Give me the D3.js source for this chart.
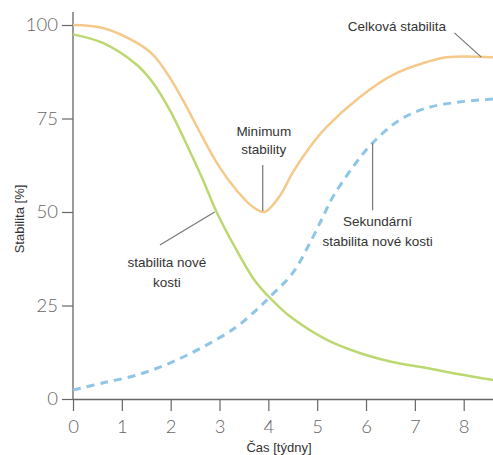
<!DOCTYPE html>
<html>
<head>
<meta charset="utf-8">
<script src="https://cdn.jsdelivr.net/npm/d3@7"></script>
<style>
  body { margin: 0; background: #fff; }
  .tick text { font-family: Lato, "DejaVu Sans", sans-serif; font-weight: 300; fill: #666; }
  .note { font-family: "Liberation Sans", Arial, sans-serif; font-size: 13.5px; fill: #333; }
</style>
</head>
<body>
<div id="chart"></div>
<script>
// values (tyden, %)
var celkT = [0, 0.61, 1.31, 1.64, 1.98, 2.33, 2.66, 3.0, 3.35, 3.68, 3.92, 4.23, 4.5, 4.85, 5.19, 5.87, 6.54, 7.24, 7.65, 8.6];
var celkV = [100, 99.2, 95.2, 92, 86, 78, 69.8, 62, 55.8, 51.4, 50, 54.2, 60.6, 67.4, 72.7, 80.7, 86.6, 90.1, 91.4, 91.4];

var noveT = [0, 0.61, 1.31, 1.64, 1.98, 2.33, 2.66, 2.94, 3.35, 3.76, 4.23, 4.5, 5.2, 5.87, 6.54, 7.24, 7.91, 8.6];
var noveV = [97.5, 95.2, 89.3, 84.5, 77.3, 68, 58.6, 50, 39.8, 31, 24.5, 21.5, 15.8, 12.3, 9.9, 8.3, 6.6, 5.1];

var sekT = [0, 0.61, 1.31, 1.98, 2.66, 3.35, 3.82, 4.03, 4.5, 4.85, 5.11, 5.32, 5.73, 6.13, 6.69, 7.24, 7.91, 8.6];
var sekV = [2.4, 4.3, 6.4, 9.6, 13.9, 19.3, 24.6, 27.3, 33.7, 41.7, 48.5, 54, 62, 68.4, 74.6, 77.8, 79.4, 80.2];

var xTicks = [0, 1, 2, 3, 4, 5, 6, 7, 8];
var yTicks = [0, 25, 50, 75, 100];

var width = 493, height = 455;
var svg = d3.select("#chart").append("svg")
    .attr("width", width)
    .attr("height", height);

var x = d3.scaleLinear().domain([0, 8.6]).range([73, 493]);
var y = d3.scaleLinear().domain([0, 100]).range([399, 25]);

// axes
var yAxis = d3.axisLeft(y).tickValues(yTicks).tickSize(11).tickPadding(4).tickSizeOuter(0);
var gy = svg.append("g").attr("transform", "translate(" + x(0) + ",0)").call(yAxis);
gy.select(".domain").remove();
gy.append("line")
    .attr("x1", 0).attr("x2", 0)
    .attr("y1", y(0)).attr("y2", y(103.5))
    .attr("stroke", "#666").attr("stroke-width", 1.3);

var xAxis = d3.axisBottom(x).tickValues(xTicks).tickSize(12).tickPadding(9).tickSizeOuter(0);
var gx = svg.append("g").attr("transform", "translate(0," + y(0) + ")").call(xAxis);
gx.select(".domain").attr("stroke", "#666").attr("stroke-width", 1.3);

svg.selectAll(".tick line").attr("stroke", "#666").attr("stroke-width", 1.2);
svg.selectAll(".tick text").style("font-size", "18.5px");

// axis titles
svg.append("text").attr("class", "note")
    .style("font-size", "13px")
    .attr("transform", "translate(24,219) rotate(-90)")
    .attr("text-anchor", "middle")
    .text("Stabilita [%]");
svg.append("text").attr("class", "note")
    .style("font-size", "13px")
    .attr("x", 279).attr("y", 452)
    .attr("text-anchor", "middle")
    .text("Čas [týdny]");

// curves
var line = d3.line()
    .x(function(d) { return x(d[0]); })
    .y(function(d) { return y(d[1]); })
    .curve(d3.curveCatmullRom.alpha(0.5));

function pairs(t, v) { return t.map(function(d, i) { return [d, v[i]]; }); }

svg.append("path")
    .attr("d", line(pairs(sekT, sekV)))
    .attr("fill", "none").attr("stroke", "#8fc6e6")
    .attr("stroke-width", 3).attr("stroke-dasharray", "8,6");
svg.append("path")
    .attr("d", line(pairs(noveT, noveV)))
    .attr("fill", "none").attr("stroke", "#bcd870").attr("stroke-width", 2.5);
svg.append("path")
    .attr("d", line(pairs(celkT, celkV)))
    .attr("fill", "none").attr("stroke", "#f4c98a").attr("stroke-width", 2.5);

// annotations
function leader(x1, y1, x2, y2) {
  svg.append("line")
     .attr("x1", x(x1)).attr("y1", y(y1))
     .attr("x2", x(x2)).attr("y2", y(y2))
     .attr("stroke", "#777").attr("stroke-width", 1.2);
}
function note(tx, ty, lines, dy) {
  var t = svg.append("text").attr("class", "note")
      .attr("text-anchor", "middle");
  lines.forEach(function(s, i) {
    t.append("tspan").attr("x", x(tx)).attr("y", y(ty) + i * dy).text(s);
  });
}

note(6.63, 98.4, ["Celková stabilita"], 0);
leader(7.81, 97.9, 8.36, 91.4);

note(3.906, 70.3, ["Minimum", "stability"], 18);
leader(3.885, 62.6, 3.885, 50.3);

note(6.237, 46.3, ["Sekundární", "stabilita nové kosti"], 20);
leader(6.135, 68.4, 6.135, 50.5);

note(1.922, 35.3, ["stabilita nové", "kosti"], 20);
leader(1.78, 41.2, 2.9, 50.0);
</script>
</body>
</html>
